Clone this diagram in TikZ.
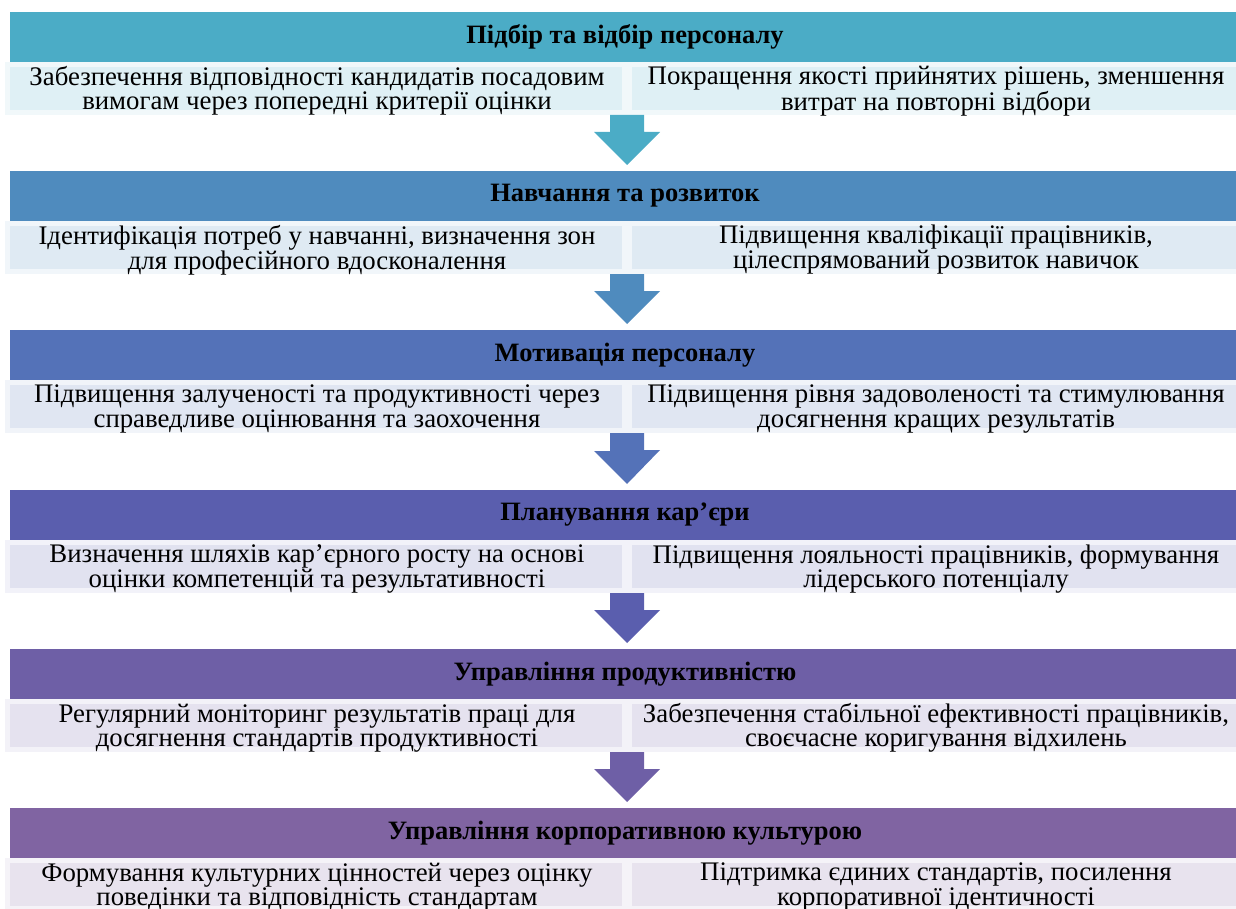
\documentclass[tikz,border=0pt]{standalone}
\usepackage{fontspec}
\setmainfont{Liberation Serif}
\usetikzlibrary{calc}
\definecolor{c1}{HTML}{4BACC6}
\definecolor{c2}{HTML}{4F8BBE}
\definecolor{c3}{HTML}{5472B8}
\definecolor{c4}{HTML}{5A5EAE}
\definecolor{c5}{HTML}{6E5FA6}
\definecolor{c6}{HTML}{8064A2}
\begin{document}
\begin{tikzpicture}[x=1pt,y=-1pt,
  hdr/.style={fill=#1, minimum width=1230pt, minimum height=50pt, inner sep=0pt, outer sep=0pt,
     font=\fontsize{26.5}{28}\selectfont\bfseries},
  sub/.style={fill=#1!18!white, draw=#1!8!white, line width=5pt, minimum height=48pt, inner sep=0pt, outer sep=0pt},
  subl/.style={sub=#1, minimum width=617pt},
  subr/.style={sub=#1, minimum width=613pt},
  subtext/.style={inner sep=0pt, align=center, font=\fontsize{26.8}{21.7}\selectfont},
  arr/.style={fill=#1}
]
\useasboundingbox (0,0) rectangle (1236,909);
\clip (0,0) rectangle (1236,909);
\foreach \i/\T/\H/\L/\R in {
 1/12/{Підбір та відбір персоналу}/{Забезпечення відповідності кандидатів посадовим\\вимогам через попередні критерії оцінки}/{Покращення якості прийнятих рішень, зменшення\\витрат на повторні відбори},
 2/171/{Навчання та розвиток}/{Ідентифікація потреб у навчанні, визначення зон\\для професійного вдосконалення}/{Підвищення кваліфікації працівників,\\цілеспрямований розвиток навичок},
 3/330/{Мотивація персоналу}/{Підвищення залученості та продуктивності через\\справедливе оцінювання та заохочення}/{Підвищення рівня задоволеності та стимулювання\\досягнення кращих результатів},
 4/490/{Планування кар’єри}/{Визначення шляхів кар’єрного росту на основі\\оцінки компетенцій та результативності}/{Підвищення лояльності працівників, формування\\лідерського потенціалу},
 5/649/{Управління продуктивністю}/{Регулярний моніторинг результатів праці для\\досягнення стандартів продуктивності}/{Забезпечення стабільної ефективності працівників,\\своєчасне коригування відхилень},
 6/808/{Управління корпоративною культурою}/{Формування культурних цінностей через оцінку\\поведінки та відповідність стандартам}/{Підтримка єдиних стандартів, посилення\\корпоративної ідентичності}}
{
  \node[subl=c\i] (l\i) at (316,\T+76.5) {};
  \node[subr=c\i] (r\i) at (936,\T+76.5) {};
  \node[subtext] (lt\i) at ($(l\i.center)+(1,2.5)$) {\L};
  \node[subtext] (rt\i) at ($(r\i.center)+(0,2.5)$) {\R};
  \node[hdr=c\i] (h\i) at (625,\T+25) {\H};
}
\foreach \i [evaluate=\i as \j using int(\i+1)] in {1,...,5}{
  \coordinate (a\i) at ($(l\i.south east)!0.5!(r\i.south west)+(0,2.5)$);
  \fill[arr=c\i] (a\i) ++(-17,0) -- ++(34,0) -- ++(0,17) -- ++(16,0) -- ($(a\i |- h\j.north)+(0,-6)$) -- ++(-33,-33) -- ++(16,0) -- cycle;
}
\end{tikzpicture}
\end{document}
